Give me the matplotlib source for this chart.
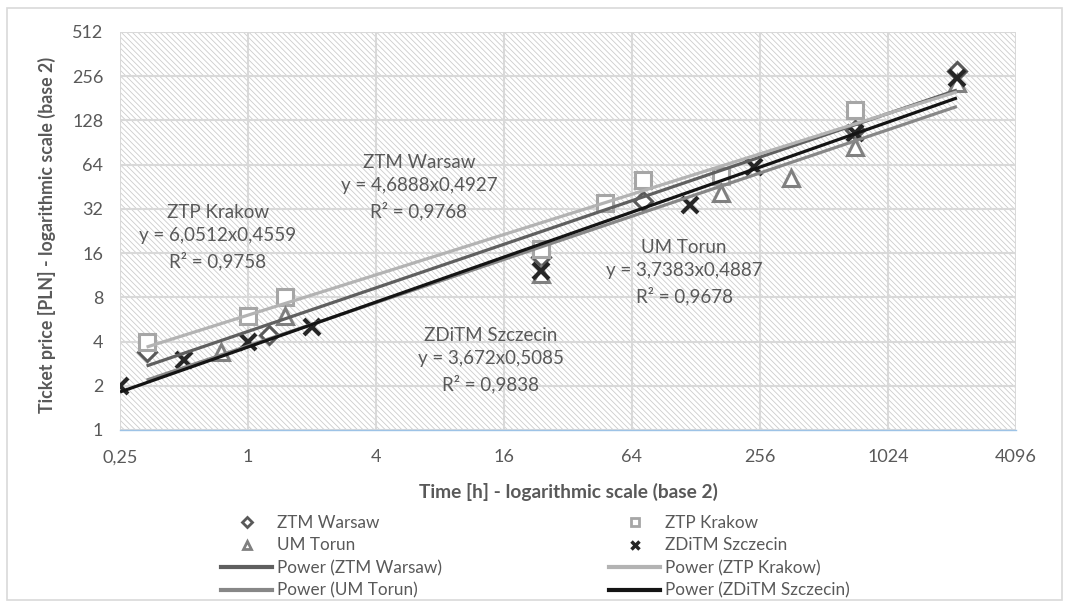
import matplotlib
matplotlib.use("Agg")
import matplotlib.pyplot as plt
from matplotlib.lines import Line2D
from matplotlib.patches import Rectangle
import numpy as np

plt.rcParams['font.family'] = ['Lato', 'DejaVu Sans']
plt.rcParams['hatch.linewidth'] = 0.6

# ticket prices [PLN] vs validity time [h]
warsaw_x = [1 / 3, 1.25, 24, 72, 720, 2160]
warsaw_y = [3.4, 4.4, 15, 36, 110, 280]

krakow_x = [1 / 3, 1, 1.5, 24, 48, 72, 168, 720]
krakow_y = [4, 6, 8, 17, 35, 50, 54, 150]

torun_x = [0.75, 1.5, 24, 168, 360, 720, 2160]
torun_y = [3.4, 6, 11.5, 41, 52, 85, 230]

szczecin_x = [0.25, 0.5, 1, 2, 24, 120, 240, 720, 2160]
szczecin_y = [2, 3, 4, 5, 12, 34, 62, 105, 250]

# power trend lines as reported on the chart: y = a * x^b
trend_a = {"ZTM Warsaw": 4.6888, "ZTP Krakow": 6.0512, "UM Torun": 3.7383, "ZDiTM Szczecin": 3.672}
trend_b = {"ZTM Warsaw": 0.4927, "ZTP Krakow": 0.4559, "UM Torun": 0.4887, "ZDiTM Szczecin": 0.5085}
trend_r2 = {"ZTM Warsaw": "0,9768", "ZTP Krakow": "0,9758", "UM Torun": "0,9678", "ZDiTM Szczecin": "0,9838"}
trend_range = {"ZTM Warsaw": (1 / 3, 2160), "ZTP Krakow": (1 / 3, 2160),
               "UM Torun": (1 / 3, 2160), "ZDiTM Szczecin": (0.25, 2160)}

x_ticks = [0.25, 1, 4, 16, 64, 256, 1024, 4096]
x_tick_labels = ["0,25", "1", "4", "16", "64", "256", "1024", "4096"]
y_ticks = [1, 2, 4, 8, 16, 32, 64, 128, 256, 512]

W, H = 1067, 604


def fx(x):
    return x / W


def fy(y):
    return 1 - y / H


txt = '#595959'
series = [
    ("ZTM Warsaw", warsaw_x, warsaw_y, 'D', '#595959', '#5f5f5f', 9.5),
    ("ZTP Krakow", krakow_x, krakow_y, 's', '#a6a6a6', '#b3b3b3', 11),
    ("UM Torun", torun_x, torun_y, '^', '#808080', '#878787', 11),
    ("ZDiTM Szczecin", szczecin_x, szczecin_y, 'x', '#262626', '#141414', 11),
]

fig = plt.figure(figsize=(W / 100, H / 100), dpi=100)
fig.patches.append(Rectangle((fx(7), fy(600)), fx(1062 - 7), (600 - 8) / H, transform=fig.transFigure,
                             facecolor='none', edgecolor='#d9d9d9', lw=1.2))
ax = fig.add_axes([fx(120), fy(430), fx(1016 - 120), (430 - 32) / H])
ax.set_xscale('log', base=2)
ax.set_yscale('log', base=2)
ax.set_xlim(0.25, 4096)
ax.set_ylim(1, 512)

ax.add_patch(Rectangle((0, 0), 1, 1, transform=ax.transAxes, facecolor='white',
                       edgecolor='#cccccc', hatch='\\\\\\\\\\\\', lw=0, zorder=0))

ax.set_xticks(x_ticks)
ax.set_xticklabels(x_tick_labels)
ax.set_yticks(y_ticks)
ax.set_yticklabels([str(v) for v in y_ticks])
ax.minorticks_off()
ax.tick_params(length=0, labelsize=13, colors=txt, pad=14)
ax.tick_params(axis='y', pad=12)
ax.grid(True, color='#d9d9d9', lw=1.5, zorder=1)
for s in ['top', 'right', 'left']:
    ax.spines[s].set_visible(False)
ax.spines['bottom'].set_color('#9dc3e6')
ax.spines['bottom'].set_linewidth(1.0)

marker_handles = []
line_handles = []
for name, xs, ys, mk, mcol, lcol, ms in series:
    if mk == 'x':
        ax.plot(xs, ys, ls='none', marker=mk, ms=ms, mew=3, color=mcol, zorder=4)
        marker_handles.append(Line2D([], [], ls='none', marker=mk, ms=6, mew=2.5, color=mcol))
    else:
        ax.plot(xs, ys, ls='none', marker=mk, ms=ms, mew=2.2, mec=mcol, mfc='white', zorder=4)
        marker_handles.append(Line2D([], [], ls='none', marker=mk, ms=6 if mk != 'D' else 5,
                                     mew=2, mec=mcol, mfc='white'))
    x0, x1 = trend_range[name]
    tx = np.array([x0, x1])
    ax.plot(tx, trend_a[name] * tx ** trend_b[name], color=lcol, lw=2.3, zorder=5,
            solid_capstyle='butt')
    line_handles.append(Line2D([], [], color=lcol, lw=3))

# trend line labels
label_pos = {"ZTP Krakow": (218, 237), "ZTM Warsaw": (419, 187),
             "UM Torun": (684, 272), "ZDiTM Szczecin": (491, 360)}
for name, (px, py) in label_pos.items():
    a = str(trend_a[name]).replace('.', ',')
    b = str(trend_b[name]).replace('.', ',')
    fig.text(fx(px), fy(py), f"{name}\ny = {a}x{b}\nR² = {trend_r2[name]}",
             ha='center', va='center', fontsize=13.5, color=txt, linespacing=1.45, zorder=6)

fig.text(fx(47), fy(235), "Ticket price [PLN] - logarithmic scale (base 2)", rotation=90,
         ha='center', va='center', fontsize=12.8, fontweight='bold', color=txt)
fig.text(fx(568), fy(492), "Time [h] - logarithmic scale (base 2)",
         ha='center', va='center', fontsize=13.8, fontweight='bold', color=txt)

names = [s[0] for s in series]
leg_kw = dict(frameon=False, fontsize=12.3, labelcolor=txt, handlelength=3.0, handletextpad=0.3,
              labelspacing=0.38, borderpad=0, borderaxespad=0, loc='upper left')
leg1 = fig.legend([marker_handles[0], marker_handles[2], line_handles[0], line_handles[2]],
                  [names[0], names[2], f"Power ({names[0]})", f"Power ({names[2]})"],
                  bbox_to_anchor=(fx(221), fy(515)), **leg_kw)
leg2 = fig.legend([marker_handles[1], marker_handles[3], line_handles[1], line_handles[3]],
                  [names[1], names[3], f"Power ({names[1]})", f"Power ({names[3]})"],
                  bbox_to_anchor=(fx(609), fy(515)), **leg_kw)

fig.savefig("out.png", dpi=100)
